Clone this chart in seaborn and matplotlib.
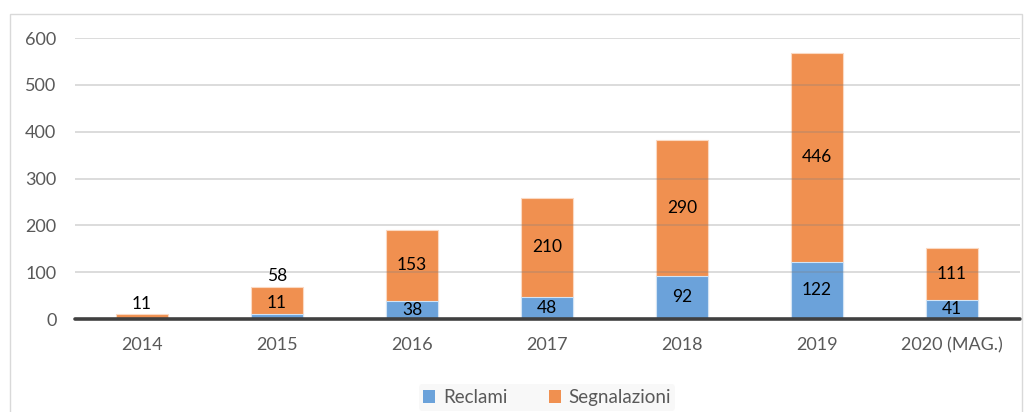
import matplotlib
matplotlib.use("Agg")
import matplotlib.pyplot as plt
from matplotlib.patches import Rectangle, Patch
import pandas as pd
import seaborn as sns

# %% Data
anni = ["2014", "2015", "2016", "2017", "2018", "2019", "2020 (MAG.)"]
reclami = [0, 11, 38, 48, 92, 122, 41]
segnalazioni = [11, 58, 153, 210, 290, 446, 111]

blue = "#6BA2DA"
orange = "#F09050"

df = pd.DataFrame({"Anno": anni, "Reclami": reclami, "Segnalazioni": segnalazioni})
df["Totale"] = df["Reclami"] + df["Segnalazioni"]

sns.set_theme(style="white")
plt.rcParams["font.family"] = ["Lato", "DejaVu Sans"]

fig = plt.figure(figsize=(10.32, 4.12), dpi=100)
ax = fig.add_axes([0.0722, 0.2257, 0.9157, 0.682])

# stacked bars: total first (orange), reclami over it (blue)
sns.barplot(data=df, x="Anno", y="Totale", color=orange, width=0.39,
            edgecolor="#FBD9C2", linewidth=0.8, saturation=1, ax=ax)
sns.barplot(data=df, x="Anno", y="Reclami", color=blue, width=0.39,
            edgecolor="#D2E4F5", linewidth=0.8, saturation=1, ax=ax)

ax.set_ylim(0, 600)
ax.set_yticks(range(0, 601, 100))
ax.set_axisbelow(False)
ax.yaxis.grid(True, color="#808080", alpha=0.33, lw=1.2)
for s in ax.spines.values():
    s.set_visible(False)
ax.axhline(0, color="#404040", lw=2.6, clip_on=False, zorder=5)
ax.set_xlabel("")
ax.set_ylabel("")
ax.tick_params(axis="y", length=0, pad=13, labelsize=13, labelcolor="#595959")
ax.tick_params(axis="x", length=0, pad=13, labelsize=13, labelcolor="#595959")

# data labels
for i, (r, s) in enumerate(zip(reclami, segnalazioni)):
    tot = r + s
    if tot < 80:
        ys = tot + 22
        yr = r + 23
    else:
        ys = r + s / 2
        yr = r / 2
    ax.text(i, ys, str(s), ha="center", va="center", fontsize=12.5, color="black", zorder=6)
    if r > 0:
        ax.text(i, yr, str(r), ha="center", va="center", fontsize=12.5, color="black", zorder=6)

# legend
handles = [Patch(facecolor=blue, edgecolor="none", label="Reclami"),
           Patch(facecolor=orange, edgecolor="none", label="Segnalazioni")]
leg = fig.legend(handles=handles, loc="center", bbox_to_anchor=(0.53, 0.035), ncol=2,
                 frameon=True, fontsize=13.5, handlelength=0.65, handleheight=0.65,
                 handletextpad=0.4, columnspacing=2.2, borderpad=0.25)
leg.get_frame().set_facecolor("#F7F7F7")
leg.get_frame().set_edgecolor("none")
for t in leg.get_texts():
    t.set_color("#595959")

# outer chart frame
fig.patches.append(Rectangle((10 / 1032, -0.05), 1012 / 1032, 1.05 - 14 / 412,
                             transform=fig.transFigure, fill=False,
                             edgecolor="#D9D9D9", lw=1))

fig.savefig("out.png", dpi=100)
